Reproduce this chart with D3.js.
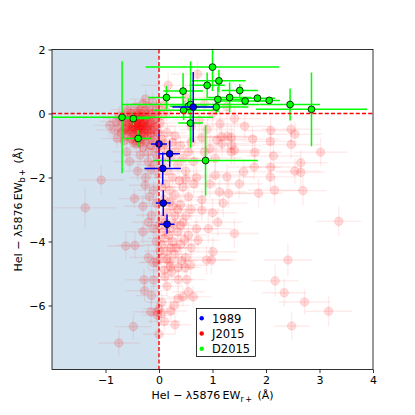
<!DOCTYPE html>
<html><head><meta charset="utf-8">
<script src="https://cdn.jsdelivr.net/npm/d3@7"></script>
<style>body{margin:0;background:#fff}svg{display:block}text{font-family:"DejaVu Sans",sans-serif}</style>
</head><body><svg id="c" width="415" height="415"></svg>
<script>
// ---------- data ----------
const xTicks = [-1, 0, 1, 2, 3, 4];
const yTicks = [-6, -4, -2, 0, 2];
const legendLabels = ["1989", "J2015", "D2015"];
// [x, y, xerr, yerr]
const obs1989 = [
  [0.64, 0.20, 0.39, 1.10], [0.00, -0.95, 0.15, 0.45], [0.20, -1.26, 0.19, 0.42],
  [0.07, -1.72, 0.34, 0.50], [0.08, -2.80, 0.14, 0.40], [0.15, -3.46, 0.14, 0.30]
];
const obsD2015 = [
  [-0.69, -0.12, 1.70, 1.75], [-0.48, -0.16, 0.30, 0.20], [-0.39, -0.78, 0.25, 0.26],
  [0.14, 0.50, 0.34, 0.36], [0.45, 0.70, 0.37, 0.56], [0.46, 0.10, 0.57, 0.30],
  [0.55, 0.23, 0.35, 0.25], [0.59, 0.28, 1.29, 1.35], [0.59, -0.30, 0.23, 0.60],
  [0.87, -1.47, 0.98, 1.10], [0.90, 0.88, 0.33, 0.40], [1.00, 1.45, 1.25, 0.75],
  [1.12, 1.02, 0.50, 0.35], [1.10, 0.44, 0.50, 0.40], [1.07, 0.20, 0.60, 0.20],
  [1.32, 0.50, 0.40, 0.47], [1.51, 0.72, 0.34, 0.20], [1.61, 0.39, 0.47, 0.13],
  [1.84, 0.48, 0.33, 0.10], [2.06, 0.41, 0.20, 0.10], [2.45, 0.28, 0.56, 0.50],
  [2.85, 0.13, 1.04, 1.15]
];
const obsJ2015 = [
  // dense core
  [-0.42,-0.37,0.30,0.25],[-0.35,-0.25,0.25,0.30],[-0.50,-0.30,0.35,0.20],[-0.30,-0.45,0.20,0.30],
  [-0.45,-0.50,0.30,0.35],[-0.55,-0.20,0.40,0.30],[-0.25,-0.15,0.25,0.20],[-0.38,-0.10,0.30,0.25],
  [-0.60,-0.40,0.35,0.30],[-0.20,-0.35,0.30,0.40],[-0.32,-0.60,0.25,0.30],[-0.48,-0.65,0.30,0.25],
  [-0.15,-0.50,0.20,0.30],[-0.40,0.05,0.35,0.30],[-0.28,0.10,0.30,0.35],[-0.52,0.00,0.25,0.30],
  [-0.65,-0.15,0.40,0.25],[-0.70,-0.35,0.30,0.30],[-0.58,-0.55,0.25,0.35],[-0.22,-0.70,0.30,0.30],
  [-0.10,-0.20,0.25,0.25],[-0.12,0.00,0.30,0.20],[-0.05,-0.40,0.35,0.30],[-0.35,-0.80,0.30,0.35],
  [-0.25,-0.90,0.25,0.30],[-0.45,-0.85,0.30,0.30],[-0.60,-0.70,0.35,0.25],[-0.78,-0.78,0.30,0.30],
  [-0.83,-0.52,0.35,0.30],[-0.92,-0.37,0.30,0.25],[-0.75,-0.10,0.35,0.30],[-0.80,-0.25,0.30,0.25],
  [-0.30,0.30,0.30,0.30],[-0.18,0.20,0.35,0.30],[-0.45,0.20,0.30,0.25],[-0.60,0.12,0.30,0.30],
  [-0.05,0.10,0.30,0.30],[-0.02,-0.60,0.30,0.35],[-0.10,-0.75,0.25,0.30],[-0.15,-1.00,0.30,0.30],
  [-0.05,-1.10,0.30,0.30],[-0.30,-1.05,0.25,0.30],[-0.38,-0.45,0.30,0.30],[-0.42,-0.20,0.30,0.30],
  [-0.27,-0.30,0.25,0.30],[-0.33,-0.38,0.30,0.25],[-0.50,-0.42,0.30,0.30],[-0.40,-0.55,0.30,0.30],
  [-0.55,-0.50,0.30,0.30],[-0.20,-0.55,0.30,0.30],[-0.15,-0.30,0.30,0.30],[-0.62,-0.25,0.30,0.30],
  [-0.36,-0.15,0.30,0.30],[-0.48,-0.08,0.30,0.30],[-0.22,-0.05,0.30,0.30],[-0.08,-0.15,0.30,0.30],
  [0.02,-0.30,0.30,0.30],[0.05,-0.05,0.35,0.30],[0.00,0.20,0.30,0.30],[-0.28,-0.72,0.30,0.30],
  [-0.52,-0.78,0.30,0.30],[-0.68,-0.55,0.30,0.30],[-0.42,-0.95,0.30,0.30],[-0.20,-1.20,0.30,0.30],
  [-0.35,0.12,0.30,0.30],[-0.12,0.35,0.30,0.30],[0.10,0.28,0.30,0.30],[0.15,0.05,0.30,0.30],
  [-0.25,0.45,0.30,0.30],[-0.10,-0.45,0.30,0.30],
  [-0.40,-0.30,0.20,0.20],[-0.36,-0.42,0.20,0.25],[-0.44,-0.25,0.25,0.20],[-0.31,-0.33,0.20,0.20],
  [-0.47,-0.40,0.25,0.25],[-0.38,-0.52,0.20,0.20],[-0.28,-0.22,0.20,0.25],[-0.52,-0.58,0.25,0.20],
  [-0.34,-0.68,0.20,0.25],[-0.24,-0.48,0.20,0.20],[-0.43,-0.75,0.25,0.25],[-0.56,-0.33,0.20,0.20],
  [-0.39,-0.05,0.20,0.25],[-0.46,-0.15,0.20,0.20],[-0.30,-0.10,0.25,0.20],[-0.18,-0.25,0.20,0.25],
  [-0.26,-0.60,0.20,0.20],[-0.41,-0.62,0.25,0.25],[-0.50,-0.50,0.20,0.20],[-0.33,-0.50,0.20,0.25],
  [-0.22,-0.40,0.25,0.20],[-0.45,-0.33,0.20,0.20],[-0.37,-0.20,0.20,0.20],[-0.29,-0.40,0.25,0.25],
  [-0.53,-0.12,0.20,0.20],[-0.62,-0.48,0.25,0.25],[-0.16,-0.62,0.20,0.20],[-0.35,-0.92,0.20,0.25],
  [-0.48,-0.90,0.25,0.20],[-0.12,-0.85,0.20,0.20],[-0.08,-0.55,0.20,0.25],[-0.20,0.05,0.25,0.20],
  [-0.32,0.00,0.20,0.20],[-0.58,0.05,0.20,0.25],[-0.70,-0.62,0.25,0.20],[-0.65,-0.85,0.20,0.20],
  // stream below zero
  [0.05,-0.80,0.30,0.30],[0.15,-0.60,0.35,0.30],[0.25,-0.90,0.30,0.35],[0.10,-1.10,0.30,0.30],
  [0.30,-1.20,0.35,0.30],[0.20,-1.40,0.30,0.35],[0.05,-1.50,0.30,0.30],[0.40,-1.00,0.35,0.30],
  [0.45,-1.40,0.30,0.35],[0.35,-1.60,0.30,0.30],[0.15,-1.80,0.30,0.35],[0.00,-1.90,0.30,0.30],
  [0.25,-2.00,0.35,0.30],[0.50,-1.80,0.30,0.30],[0.55,-1.20,0.35,0.35],[0.10,-0.95,0.30,0.30],
  [-0.05,-1.30,0.30,0.30],[-0.10,-1.60,0.30,0.30],[0.30,-0.70,0.35,0.30],[0.60,-0.90,0.40,0.35],
  [0.65,-1.50,0.40,0.35],[0.70,-2.00,0.40,0.35],[0.38,-2.10,0.30,0.30],[0.12,-2.20,0.30,0.30],
  [-0.20,-1.50,0.30,0.30],[-0.15,-1.75,0.30,0.30],[-0.25,-2.00,0.30,0.35],[-0.26,-2.24,0.30,0.30],
  [-0.10,-2.40,0.30,0.30],[-0.18,-2.60,0.30,0.30],[-0.46,-2.66,0.30,0.30],[-0.05,-2.80,0.30,0.30],
  [-0.14,-3.18,0.30,0.35],[-0.20,-3.40,0.30,0.30],[-0.10,-3.60,0.30,0.30],
  [0.05,-2.30,0.30,0.30],[0.20,-2.40,0.30,0.35],[0.30,-2.55,0.35,0.30],[0.45,-2.30,0.30,0.30],
  [0.55,-2.60,0.35,0.35],[0.10,-2.70,0.30,0.30],[0.25,-2.90,0.30,0.35],[0.40,-2.85,0.35,0.30],
  [0.60,-3.00,0.40,0.35],[0.15,-3.10,0.30,0.30],[0.05,-3.30,0.30,0.35],[0.30,-3.20,0.35,0.30],
  [0.45,-3.40,0.30,0.30],[0.20,-3.60,0.30,0.35],[0.35,-3.70,0.35,0.30],[0.10,-3.90,0.30,0.30],
  [0.55,-3.80,0.35,0.35],[0.65,-2.20,0.40,0.35],[0.80,-2.70,0.40,0.35],[0.50,-2.05,0.30,0.30],
  [0.00,-3.50,0.30,0.30],[0.25,-4.00,0.30,0.35],[0.40,-4.10,0.35,0.30],[0.15,-4.30,0.30,0.30],
  [0.05,-4.50,0.30,0.35],[0.30,-4.40,0.35,0.30],[0.50,-4.50,0.35,0.35],[0.20,-4.65,0.30,0.30],
  [0.36,-4.81,0.30,0.30],[0.49,-4.81,0.30,0.35],[0.59,-4.74,0.35,0.30],[0.21,-4.79,0.30,0.30],
  [-0.10,-4.66,0.30,0.35],[-0.04,-4.65,0.30,0.30],[0.10,-4.90,0.30,0.30],[0.24,-4.95,0.30,0.35],
  [0.60,-4.20,0.40,0.35],[0.70,-3.60,0.40,0.35],[0.73,-3.96,0.40,0.35],[0.80,-3.02,0.40,0.35],
  [0.05,-4.10,0.30,0.30],[-0.05,-4.00,0.30,0.30],[0.40,-3.50,0.30,0.30],
  [0.12,-3.40,0.30,0.30],[0.28,-3.45,0.30,0.30],[0.18,-3.80,0.30,0.30],[0.08,-3.70,0.30,0.30],
  [0.32,-4.20,0.30,0.30],[0.48,-3.95,0.30,0.30],[0.22,-4.20,0.30,0.30],[0.02,-4.30,0.30,0.30],
  [0.42,-4.60,0.30,0.30],[0.15,-4.55,0.30,0.30],[0.35,-3.00,0.30,0.30],[0.20,-2.75,0.30,0.30],
  [0.50,-3.20,0.30,0.30],
  [0.11,-5.10,0.30,0.35],[0.36,-5.19,0.30,0.30],[0.52,-5.19,0.35,0.35],[-0.10,-5.20,0.30,0.30],
  [-0.27,-5.54,0.35,0.35],[-0.14,-5.69,0.30,0.30],[0.36,-5.78,0.30,0.35],[0.45,-5.73,0.30,0.30],
  [0.55,-5.57,0.30,0.30],[0.64,-5.73,0.35,0.35],[-0.04,-6.20,0.30,0.30],[0.22,-6.17,0.30,0.35],
  [-0.03,-6.30,0.30,0.30],[0.00,-6.10,0.30,0.30],[0.05,-6.25,0.30,0.30],[0.15,-5.40,0.30,0.30],
  [0.05,-5.90,0.30,0.30],[0.28,-6.00,0.30,0.30],[-0.48,-6.66,0.35,0.40],[-0.75,-7.17,0.39,0.42],
  [0.10,-6.50,0.30,0.30],[0.30,-6.60,0.30,0.30],[0.00,-6.90,0.30,0.30],
  // right scatter
  [0.72,1.23,0.50,0.40],[0.17,0.88,0.50,0.40],[0.50,0.50,0.45,0.40],[0.85,0.30,0.50,0.40],
  [1.00,0.00,0.50,0.45],[1.27,0.21,0.50,0.40],[1.41,-0.16,0.50,0.45],[1.14,-0.33,0.55,0.40],
  [0.75,-0.20,0.50,0.40],[0.90,-0.50,0.50,0.45],[0.60,-0.40,0.45,0.40],[0.80,-0.75,0.50,0.40],
  [1.08,-0.83,0.55,0.45],[1.17,-0.73,0.50,0.40],[1.28,-0.71,0.55,0.45],[1.35,-0.74,0.50,0.40],
  [1.18,-0.94,0.50,0.40],[1.36,-0.99,0.55,0.45],[1.35,-1.20,0.50,0.40],[1.41,-1.15,0.50,0.45],
  [2.09,-0.53,0.50,0.45],[2.47,-0.49,0.55,0.45],[2.54,-0.65,0.50,0.40],[2.08,-0.87,0.50,0.45],
  [2.47,-0.97,0.55,0.45],[1.79,-1.21,0.50,0.40],[2.14,-1.33,0.50,0.45],[2.65,-1.54,0.50,0.40],
  [3.02,-1.21,0.50,0.45],[1.60,-0.40,0.50,0.40],[1.75,-0.80,0.50,0.40],[0.95,-1.10,0.50,0.45],
  [1.05,-1.40,0.50,0.40],[0.85,-1.20,0.50,0.40],[1.78,-1.67,0.50,0.40],[2.09,-1.67,0.50,0.45],
  [2.54,-1.80,0.50,0.40],[2.65,-1.84,0.45,0.45],[2.08,-1.98,0.50,0.45],[1.86,-2.49,0.45,0.45],
  [2.16,-2.40,0.50,0.45],[2.69,-2.41,0.45,0.45],[1.27,-1.98,0.50,0.40],[1.58,-1.82,0.50,0.40],
  [1.05,-1.93,0.50,0.40],[1.13,-2.45,0.50,0.45],[1.41,-3.75,0.45,0.45],[0.92,-3.60,0.45,0.45],
  [1.01,-4.32,0.45,0.45],[0.89,-4.58,0.45,0.45],[0.98,-4.58,0.45,0.45],[3.36,-3.37,0.42,0.46],
  [2.41,-4.58,0.45,0.50],[2.17,-5.23,0.44,0.50],[2.34,-5.60,0.41,0.44],[2.72,-5.89,0.48,0.40],
  [3.17,-6.18,0.44,0.48],[2.48,-6.64,0.34,0.42],[1.20,-2.80,0.45,0.45],[1.00,-3.10,0.45,0.45],
  [1.50,-2.20,0.45,0.45],[1.30,-2.50,0.45,0.45],[0.95,-2.20,0.45,0.45],[1.10,-3.40,0.45,0.45],
  // left scatter
  [-1.08,-2.08,0.42,0.44],[-1.38,-2.95,0.59,0.62],[-0.62,-4.14,0.35,0.40],[-0.45,-4.12,0.35,0.40],
  [-0.60,-1.20,0.30,0.30],[-0.55,-1.50,0.30,0.30],[-0.35,-1.30,0.30,0.30],[-0.40,-1.80,0.30,0.30],
  [-0.30,-2.90,0.35,0.35],[-0.30,-3.70,0.35,0.35],[-0.20,-4.50,0.35,0.35],[-0.28,-5.20,0.35,0.35],
  [-0.15,-6.20,0.35,0.35]
];

// ---------- chart ----------
const svg = d3.select("#c");
const L = 52, R = 373, T = 49.5, B = 369.5;
const x = d3.scaleLinear().domain([-2, 4]).range([L, R]);
const y = d3.scaleLinear().domain([-8, 2]).range([B, T]);

svg.append("defs").append("clipPath").attr("id", "clip")
  .append("rect").attr("x", L).attr("y", T).attr("width", R - L).attr("height", B - T);

const plot = svg.append("g").attr("clip-path", "url(#clip)");

plot.append("rect").attr("x", x(-2)).attr("y", y(2))
  .attr("width", x(0) - x(-2)).attr("height", y(-8) - y(2)).attr("fill", "#d2e3ef");

function series(data, col, opts) {
  const g = plot.append("g");
  const eg = g.append("g").attr("stroke", col).attr("stroke-width", opts.ew)
    .attr("stroke-opacity", opts.eo);
  data.forEach(d => {
    eg.append("line").attr("x1", x(d[0] - d[2])).attr("x2", x(d[0] + d[2]))
      .attr("y1", y(d[1])).attr("y2", y(d[1]));
    eg.append("line").attr("x1", x(d[0])).attr("x2", x(d[0]))
      .attr("y1", y(d[1] - d[3])).attr("y2", y(d[1] + d[3]));
  });
  g.append("g").selectAll("circle").data(data).join("circle")
    .attr("cx", d => x(d[0])).attr("cy", d => y(d[1])).attr("r", opts.r)
    .attr("fill", col).attr("fill-opacity", opts.fo)
    .attr("stroke", opts.sc).attr("stroke-opacity", opts.so).attr("stroke-width", opts.sw);
}

series(obsJ2015, "red", {ew: 1.4, eo: 0.08, r: 4.3, fo: 0.14, sc: "red", so: 0.1, sw: 1});
series(obsD2015, "lime", {ew: 1.5, eo: 1, r: 3.4, fo: 1, sc: "black", so: 1, sw: 0.8});
series(obs1989, "blue", {ew: 1.5, eo: 1, r: 3.4, fo: 1, sc: "black", so: 1, sw: 0.8});

plot.append("line").attr("x1", L).attr("x2", R).attr("y1", y(0)).attr("y2", y(0))
  .attr("stroke", "red").attr("stroke-width", 1.4).attr("stroke-dasharray", "4,2.2");
plot.append("line").attr("x1", x(0)).attr("x2", x(0)).attr("y1", T).attr("y2", B)
  .attr("stroke", "red").attr("stroke-width", 1.4).attr("stroke-dasharray", "4,2.2");

// axes
const fmt = d3.format("d");
const minus = v => (v < 0 ? "\u2212" + fmt(-v) : fmt(v));
const xa = svg.append("g").attr("transform", `translate(0,${B})`)
  .call(d3.axisBottom(x).tickValues(xTicks).tickFormat(minus).tickSize(3.5).tickPadding(3).tickSizeOuter(0));
const ya = svg.append("g").attr("transform", `translate(${L},0)`)
  .call(d3.axisLeft(y).tickValues(yTicks).tickFormat(minus).tickSize(3.5).tickPadding(3).tickSizeOuter(0));
[xa, ya].forEach(a => {
  a.select(".domain").remove();
  a.selectAll("text").attr("font-size", 11).attr("fill", "#000").attr("font-family", "DejaVu Sans");
  a.selectAll("line").attr("stroke", "#000").attr("stroke-width", 0.8);
});
svg.append("rect").attr("x", L).attr("y", T).attr("width", R - L).attr("height", B - T)
  .attr("fill", "none").attr("stroke", "#000").attr("stroke-width", 0.8);

// axis labels
function axisLabel(g, sub) {
  g.append("tspan").text("HeI \u2212 \u03bb5876\u2009EW");
  g.append("tspan").attr("font-size", 8).attr("dy", 2.5).text(sub);
  g.append("tspan").attr("dy", -2.5).text("\u2002(\u00c5)");
}
const xl = svg.append("text").attr("x", (L + R) / 2).attr("y", 399)
  .attr("text-anchor", "middle").attr("font-size", 11);
axisLabel(xl, "r\u2009+");
const yl = svg.append("text").attr("transform", `translate(22,${(T + B) / 2}) rotate(-90)`)
  .attr("text-anchor", "middle").attr("font-size", 11);
axisLabel(yl, "b\u2009+");

// legend
const lg = svg.append("g");
lg.append("rect").attr("x", 196.5).attr("y", 308.5).attr("width", 59).attr("height", 48)
  .attr("fill", "#fff").attr("stroke", "#000").attr("stroke-width", 0.8);
const lcols = ["blue", "red", "lime"];
legendLabels.forEach((t, i) => {
  const cy = 318.3 + i * 15.2;
  lg.append("circle").attr("cx", 201.7).attr("cy", cy).attr("r", 2.2).attr("fill", lcols[i]);
  lg.append("text").attr("x", 212).attr("y", cy + 4.3).attr("font-size", 11.5).text(t);
});
</script></body></html>
